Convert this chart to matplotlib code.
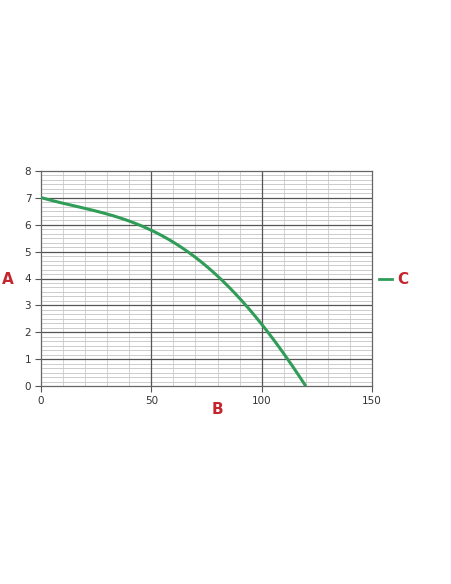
import numpy as np
import matplotlib
matplotlib.use("Agg")
import matplotlib.pyplot as plt
from matplotlib.lines import Line2D

flow = [0, 10, 20, 30, 40, 50, 60, 70, 80, 90, 100, 110, 120]
head = [7.0, 6.82, 6.62, 6.38, 6.12, 5.8, 5.35, 4.8, 4.1, 3.25, 2.3, 1.2, 0.0]
x_ticks = [0, 50, 100, 150]
y_ticks = [0, 1, 2, 3, 4, 5, 6, 7, 8]
y_label = "A"
x_label = "B"
series_label = "C"

green = "#2f9d58"
red = "#c3262e"

fig = plt.figure(figsize=(4.52, 5.84), dpi=100)
ax = fig.add_axes([41/452, 1-386/584, (372-41)/452, (386-171)/584])

xs = np.linspace(0, 120, 200)
coef = np.polyfit(flow, head, 4)
ys = np.polyval(coef, xs)
ax.plot(xs, ys, color=green, lw=2.2, solid_capstyle="butt", zorder=5)

ax.set_xlim(0, 150)
ax.set_ylim(0, 8)
ax.set_xticks(x_ticks)
ax.set_yticks(y_ticks)

# grid: minor first, then major on top
for v in np.arange(10, 150, 10):
    ax.axvline(v, color="#cccccc", lw=0.6, zorder=1)
for v in np.arange(0, 8, 1/6):
    ax.axhline(v, color="#c4c4c4", lw=0.6, zorder=1)
for v in y_ticks[1:-1]:
    ax.axhline(v, color="#555555", lw=0.9, zorder=2)
for v in x_ticks[1:-1]:
    ax.axvline(v, color="#555555", lw=0.9, zorder=2)

for s in ax.spines.values():
    s.set_color("#666666")
    s.set_linewidth(0.9)
ax.tick_params(which="major", length=4, color="#555555", labelsize=7.5, labelcolor="#333333", pad=3)

fig.text(8/452, 1-279/584, y_label, color=red, fontsize=11, fontweight="bold", ha="center", va="center")
fig.text(217/452, 1-410/584, x_label, color=red, fontsize=11, fontweight="bold", ha="center", va="center")
fig.add_artist(Line2D([379/452, 392/452], [1-279/584, 1-279/584], color=green, lw=2))
fig.text(397/452, 1-279/584, series_label, color=red, fontsize=11, fontweight="bold", ha="left", va="center")

fig.savefig("out.png", dpi=100)
